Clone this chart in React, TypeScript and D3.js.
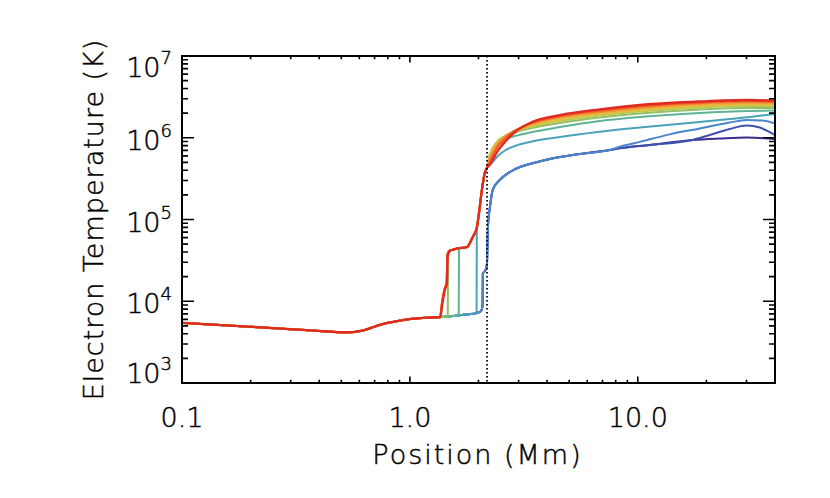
import React from 'react';
import * as d3 from 'd3';

// chromosphere, common to every profile (position Mm, temperature K)
const chromoX = [0.1, 0.2, 0.3, 0.4, 0.5, 0.55, 0.6, 0.65, 0.7, 0.75, 0.8, 0.9, 1.0, 1.2, 1.35];
const chromoT = [5450, 4870, 4550, 4330, 4170, 4180, 4300, 4550, 4900, 5200, 5450, 5780, 6050, 6300, 6380];

// upper chromosphere plateau for the early profiles
const plateauX = [1.5, 1.65, 1.8, 1.95, 2.04, 2.07];
const plateauT = [6550, 6750, 6950, 7150, 7500, 8000];

// transition region shared by the late profiles
const trX = [1.53, 1.6, 1.78, 1.88, 1.97, 2.01, 2.07, 2.13, 2.18];
const trT = [42400, 44000, 46000, 60000, 81000, 120000, 230000, 370000, 430000];

// fronts
const redFrontX = [1.36, 1.39, 1.424, 1.455, 1.465, 1.5];
const redFrontT = [6450, 9500, 13700, 16700, 36000, 41500];
const lateFrontX = [1.355, 1.385, 1.42, 1.45, 1.46, 1.5];
const lateFrontT = [6400, 9800, 14200, 17200, 37500, 42000];
const ygFrontX = [1.45, 1.466, 1.47, 1.5];
const ygFrontT = [6520, 6560, 37000, 41500];
const greenFrontX = [1.63, 1.638, 1.642, 1.7];
const greenFrontT = [6730, 6750, 43500, 45000];
const tealFrontX = [1.962, 1.966];
const tealFrontT = [7200, 78000];

// earliest profiles (purple, dark blue, blue) share this part
const earlyX = [2.085, 2.09, 2.12, 2.165, 2.18, 2.19, 2.205, 2.24, 2.31, 2.48, 2.745, 3.04, 3.36, 4.11, 5.57, 7.54];
const earlyT = [9500, 22000, 23000, 25500, 30000, 50000, 90000, 135000, 230000, 304000, 381000, 439000, 477000, 549000, 632000, 708000];

const purpleTailX = [8.34, 11.3, 17.4, 22.9, 30.1, 39.9];
const purpleTailT = [742000, 815000, 939000, 979000, 1007000, 965000];
const darkTailX = [8.34, 11.3, 17.4, 20.7, 25.3, 30.1, 34.3, 39.9];
const darkTailT = [742000, 815000, 939000, 1081000, 1279000, 1412000, 1334000, 1081000];
const blueTailX = [8.34, 10.2, 13.8, 18.7, 25.3, 30.1, 35.0, 39.9];
const blueTailT = [775000, 890000, 1100000, 1297000, 1536000, 1648000, 1625000, 1502000];

const tealX = [2.31, 2.41, 2.61, 2.89, 3.36, 4.55, 6.81, 10.2, 18.7, 31.0, 39.9];
const tealT = [505000, 581000, 698000, 792000, 887000, 1021000, 1185000, 1334000, 1558000, 1794000, 1952000];

// corona for profiles 4..11
const coronaX = [2.24, 2.41, 2.61, 2.89, 3.36, 4.55, 6.81, 10.2, 18.7, 31.0, 39.9];
const corona4 = [598000, 839000, 965000, 1051000, 1160000, 1353000, 1603000, 1794000, 2006000, 2124000, 2154000];
const corona5 = [615000, 887000, 1036000, 1160000, 1297000, 1515000, 1769000, 1978000, 2216000, 2311000, 2311000];
const corona6 = [615000, 887000, 1051000, 1192000, 1353000, 1603000, 1871000, 2094000, 2344000, 2445000, 2431000];
const corona7 = [598000, 863000, 1051000, 1209000, 1392000, 1670000, 1952000, 2185000, 2445000, 2551000, 2529000];
const corona8 = [565000, 839000, 1036000, 1226000, 1432000, 1744000, 2018000, 2266000, 2529000, 2646000, 2617000];
const corona9 = [534000, 792000, 1007000, 1226000, 1473000, 1794000, 2082000, 2344000, 2624000, 2737000, 2699000];
const corona10 = [505000, 749000, 965000, 1209000, 1494000, 1845000, 2154000, 2424000, 2699000, 2815000, 2776000];
const corona11 = [464000, 669000, 887000, 1176000, 1515000, 1897000, 2228000, 2515000, 2776000, 2896000, 2840000];

const lineColors = [
  '#3b2c8c', '#3e4fae', '#4a86cb', '#4aa2b8', '#5eb394', '#8fc063',
  '#bcc64d', '#e0c040', '#f0a838', '#f08432', '#ea5a2c', '#e02a1f',
];

const boundary = 2.18; // dotted line, Mm

const xTickLabels = ['0.1', '1.0', '10.0'];

type Pt = [number, number];
const zip = (xs: number[], ts: number[]): Pt[] => xs.map((x, i) => [x, ts[i]] as Pt);
const before = (seg: Pt[], x: number) => seg.filter((p) => p[0] < x);
function join(...segs: Pt[][]): Pt[] {
  const out: Pt[] = [];
  segs.forEach((seg) =>
    seg.forEach((p) => {
      if (!out.length || p[0] > out[out.length - 1][0]) out.push(p);
    })
  );
  return out;
}

const chromo = zip(chromoX, chromoT);
const plateau = zip(plateauX, plateauT);
const tr = zip(trX, trT);
const early = zip(earlyX, earlyT);
const lateFront = zip(lateFrontX, lateFrontT);

const series: Pt[][] = [
  join(chromo, plateau, early, zip(purpleTailX, purpleTailT)),
  join(chromo, plateau, early, zip(darkTailX, darkTailT)),
  join(chromo, plateau, early, zip(blueTailX, blueTailT)),
  join(chromo, before(plateau, 1.96), zip(tealFrontX, tealFrontT), tr, zip(tealX, tealT)),
  join(chromo, before(plateau, 1.63), zip(greenFrontX, greenFrontT), tr, zip(coronaX, corona4)),
  join(chromo, zip(ygFrontX, ygFrontT), tr, zip(coronaX, corona5)),
  join(chromo, lateFront, tr, zip(coronaX, corona6)),
  join(chromo, lateFront, tr, zip(coronaX, corona7)),
  join(chromo, lateFront, tr, zip(coronaX, corona8)),
  join(chromo, lateFront, tr, zip(coronaX, corona9)),
  join(chromo, lateFront, tr, zip(coronaX, corona10)),
  join(chromo, zip(redFrontX, redFrontT), tr, zip(coronaX, corona11)),
];

const W = 830;
const H = 498;
const L = 182;
const R = 775;
const T = 56;
const B = 383;
const FONT = '"DejaVu Sans", sans-serif';

export default function App() {
  const x = d3.scaleLog().domain([0.1, 40]).range([L, R]);
  const y = d3.scaleLog().domain([1e3, 1e7]).range([B, T]);
  const line = d3
    .line<Pt>()
    .x((d) => x(d[0]))
    .y((d) => y(d[1]))
    .curve(d3.curveMonotoneX);

  const isMajor = (v: number) => Math.abs(Math.log10(v) - Math.round(Math.log10(v))) < 1e-6;
  const xt = x.ticks();
  const yt = y.ticks();
  const yMajorLen = 12;
  const xMajorLen = 6.5;

  let tickPath = '';
  xt.forEach((v) => {
    const px = x(v);
    const len = isMajor(v) ? xMajorLen : xMajorLen / 2;
    tickPath += `M${px},${B}v${-len}M${px},${T}v${len}`;
  });
  yt.forEach((v) => {
    const py = y(v);
    const len = isMajor(v) ? yMajorLen : yMajorLen / 2;
    tickPath += `M${L},${py}h${len}M${R},${py}h${-len}`;
  });

  const yMajors = yt.filter(isMajor);
  const xMajors = xt.filter(isMajor);

  return (
    <div style={{ position: 'absolute', left: 0, top: 0 }}>
      <svg width={W} height={H} style={{ display: 'block', background: '#fff' }}>
        <defs>
          <clipPath id="plot">
            <rect x={L} y={T} width={R - L} height={B - T} />
          </clipPath>
        </defs>
        <g clipPath="url(#plot)" fill="none" strokeLinejoin="round" strokeLinecap="round">
          {series.map((s, i) => (
            <path key={i} d={line(s) || ''} stroke={lineColors[i]} strokeWidth={i === 11 ? 2.3 : 2} />
          ))}
        </g>
        <line
          x1={x(boundary)}
          x2={x(boundary)}
          y1={T}
          y2={B}
          stroke="#000"
          strokeWidth={1.8}
          strokeDasharray="1.6,2.4"
        />
        <rect x={L} y={T} width={R - L} height={B - T} fill="none" stroke="#000" strokeWidth={2} />
        <path d={tickPath} stroke="#000" strokeWidth={1.6} fill="none" />
        <g fontFamily={FONT} fill="#000" stroke="#000" strokeWidth={0.45} fontWeight={200}>
          {yMajors.map((v) => {
            const e = Math.round(Math.log10(v));
            const base = Math.min(Math.max(y(v) + 12, T + 21), B);
            return (
              <text key={v} x={172} y={base} fontSize={27} textAnchor="end">
                <tspan>10</tspan>
                <tspan dy={-13} fontSize={18}>
                  {e}
                </tspan>
              </text>
            );
          })}
          {xMajors.map((v, i) => (
            <text key={v} x={x(v)} y={427} fontSize={27} textAnchor="middle">
              {xTickLabels[i]}
            </text>
          ))}
          <text x={(L + R) / 2 - 1} y={464} fontSize={27} letterSpacing={2} textAnchor="middle">
            Position (Mm)
          </text>
          <text
            transform={`translate(103,${(T + B) / 2}) rotate(-90)`}
            fontSize={27}
            letterSpacing={1}
            textAnchor="middle"
          >
            Electron Temperature (K)
          </text>
        </g>
      </svg>
    </div>
  );
}
